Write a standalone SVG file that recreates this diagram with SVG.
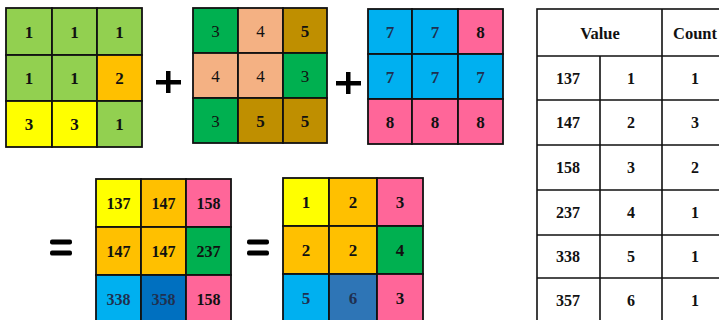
<svg xmlns="http://www.w3.org/2000/svg" width="719" height="320" viewBox="0 0 719 320">
<style>
.c{stroke:#111;stroke-width:1.8}
.t{font-family:"Liberation Serif",serif;font-weight:bold;font-size:17px;fill:#111;text-anchor:middle;dominant-baseline:central}
.m{font-size:16px}
.r{font-weight:normal}
.nb{fill:#1F3050}
.lg{fill:#92D050}.or{fill:#FFC000}.ye{fill:#FFFF00}.gr{fill:#00B050}.pe{fill:#F4B183}.go{fill:#BF8F00}.bl{fill:#00B0F0}.pk{fill:#FF6699}.db{fill:#0070C0}.sb{fill:#2E75B6}
.op{fill:#000}
.tl{stroke:#111;stroke-width:1.6;fill:none}
.h{font-size:16.5px}
</style>
<rect width="719" height="320" fill="#fff"/>
<g id="grid1">
<rect class="c lg" x="6" y="8" width="46" height="47"/><rect class="c lg" x="52" y="8" width="45" height="47"/><rect class="c lg" x="97" y="8" width="45" height="47"/>
<rect class="c lg" x="6" y="55" width="46" height="46"/><rect class="c lg" x="52" y="55" width="45" height="46"/><rect class="c or" x="97" y="55" width="45" height="46"/>
<rect class="c ye" x="6" y="101" width="46" height="46"/><rect class="c ye" x="52" y="101" width="45" height="46"/><rect class="c lg" x="97" y="101" width="45" height="46"/>
<text class="t" x="29" y="32">1</text><text class="t" x="74.5" y="32">1</text><text class="t" x="119.5" y="32">1</text>
<text class="t" x="29" y="78">1</text><text class="t" x="74.5" y="78">1</text><text class="t" x="119.5" y="78">2</text>
<text class="t" x="29" y="124">3</text><text class="t" x="74.5" y="124">3</text><text class="t" x="119.5" y="124">1</text>
</g>
<g id="plus1"><rect class="op" x="156" y="80" width="25" height="4.5"/><rect class="op" x="166" y="71" width="4.5" height="22"/></g>
<g id="grid2">
<rect class="c gr" x="193" y="8" width="45" height="45"/><rect class="c pe" x="238" y="8" width="45" height="45"/><rect class="c go" x="283" y="8" width="44" height="45"/>
<rect class="c pe" x="193" y="53" width="45" height="45"/><rect class="c pe" x="238" y="53" width="45" height="45"/><rect class="c gr" x="283" y="53" width="44" height="45"/>
<rect class="c gr" x="193" y="98" width="45" height="45"/><rect class="c go" x="238" y="98" width="45" height="45"/><rect class="c go" x="283" y="98" width="44" height="45"/>
<text class="t r" x="215.5" y="31">3</text><text class="t r" x="260.5" y="31">4</text><text class="t" x="305" y="31">5</text>
<text class="t r" x="215.5" y="76">4</text><text class="t r" x="260.5" y="76">4</text><text class="t r" x="305" y="76">3</text>
<text class="t r" x="215.5" y="121">3</text><text class="t" x="260.5" y="121">5</text><text class="t" x="305" y="121">5</text>
</g>
<g id="plus2"><rect class="op" x="336" y="81" width="25" height="4.5"/><rect class="op" x="346" y="72" width="4.5" height="22"/></g>
<g id="grid3">
<rect class="c bl" x="368" y="9" width="44" height="45"/><rect class="c bl" x="412" y="9" width="46" height="45"/><rect class="c pk" x="458" y="9" width="45" height="45"/>
<rect class="c bl" x="368" y="54" width="44" height="45"/><rect class="c bl" x="412" y="54" width="46" height="45"/><rect class="c bl" x="458" y="54" width="45" height="45"/>
<rect class="c pk" x="368" y="99" width="44" height="45"/><rect class="c pk" x="412" y="99" width="46" height="45"/><rect class="c pk" x="458" y="99" width="45" height="45"/>
<text class="t nb" x="390" y="32">7</text><text class="t nb" x="435" y="32">7</text><text class="t" x="480.5" y="32">8</text>
<text class="t nb" x="390" y="77">7</text><text class="t nb" x="435" y="77">7</text><text class="t nb" x="480.5" y="77">7</text>
<text class="t" x="390" y="122">8</text><text class="t" x="435" y="122">8</text><text class="t" x="480.5" y="122">8</text>
</g>
<g id="eq1"><rect class="op" x="50" y="239.5" width="22" height="5" rx="2"/><rect class="op" x="50" y="250.5" width="22" height="5" rx="2"/></g>
<g id="grid4">
<rect class="c ye" x="96" y="179" width="45" height="48"/><rect class="c or" x="141" y="179" width="45" height="48"/><rect class="c pk" x="186" y="179" width="45" height="48"/>
<rect class="c or" x="96" y="227" width="45" height="48"/><rect class="c or" x="141" y="227" width="45" height="48"/><rect class="c gr" x="186" y="227" width="45" height="48"/>
<rect class="c bl" x="96" y="275" width="45" height="48"/><rect class="c db" x="141" y="275" width="45" height="48"/><rect class="c pk" x="186" y="275" width="45" height="48"/>
<text class="t m" x="118.5" y="203">137</text><text class="t m" x="163.5" y="203">147</text><text class="t m" x="208.5" y="203">158</text>
<text class="t m" x="118.5" y="251">147</text><text class="t m" x="163.5" y="251">147</text><text class="t m" x="208.5" y="251">237</text>
<text class="t m nb" x="118.5" y="299">338</text><text class="t m nb" x="163.5" y="299">358</text><text class="t m" x="208.5" y="299">158</text>
</g>
<g id="eq2"><rect class="op" x="247" y="239.5" width="22" height="5" rx="2"/><rect class="op" x="247" y="250.5" width="22" height="5" rx="2"/></g>
<g id="grid5">
<rect class="c ye" x="283" y="178" width="46" height="48"/><rect class="c or" x="329" y="178" width="48" height="48"/><rect class="c pk" x="377" y="178" width="46" height="48"/>
<rect class="c or" x="283" y="226" width="46" height="48"/><rect class="c or" x="329" y="226" width="48" height="48"/><rect class="c gr" x="377" y="226" width="46" height="48"/>
<rect class="c bl" x="283" y="274" width="46" height="48"/><rect class="c sb" x="329" y="274" width="48" height="48"/><rect class="c pk" x="377" y="274" width="46" height="48"/>
<text class="t" x="306" y="202">1</text><text class="t" x="353" y="202">2</text><text class="t" x="400" y="202">3</text>
<text class="t" x="306" y="250">2</text><text class="t" x="353" y="250">2</text><text class="t" x="400" y="250">4</text>
<text class="t nb" x="306" y="298">5</text><text class="t nb" x="353" y="298">6</text><text class="t" x="400" y="298">3</text>
</g>
<g id="table">
<rect class="tl" x="537" y="9" width="191" height="314"/>
<path class="tl" d="M537 56H728M537 100H728M537 145H728M537 190H728M537 235H728M537 278H728M662 9V323M600 56V323"/>
<text class="t h" x="600" y="33">Value</text><text class="t h" x="695" y="33">Count</text>
<text class="t m" x="568" y="78">137</text><text class="t m" x="631" y="78">1</text><text class="t m" x="695" y="78">1</text>
<text class="t m" x="568" y="122.5">147</text><text class="t m" x="631" y="122.5">2</text><text class="t m" x="695" y="122.5">3</text>
<text class="t m" x="568" y="167.5">158</text><text class="t m" x="631" y="167.5">3</text><text class="t m" x="695" y="167.5">2</text>
<text class="t m" x="568" y="212.5">237</text><text class="t m" x="631" y="212.5">4</text><text class="t m" x="695" y="212.5">1</text>
<text class="t m" x="568" y="256.5">338</text><text class="t m" x="631" y="256.5">5</text><text class="t m" x="695" y="256.5">1</text>
<text class="t m" x="568" y="300.5">357</text><text class="t m" x="631" y="300.5">6</text><text class="t m" x="695" y="300.5">1</text>
</g>
</svg>
